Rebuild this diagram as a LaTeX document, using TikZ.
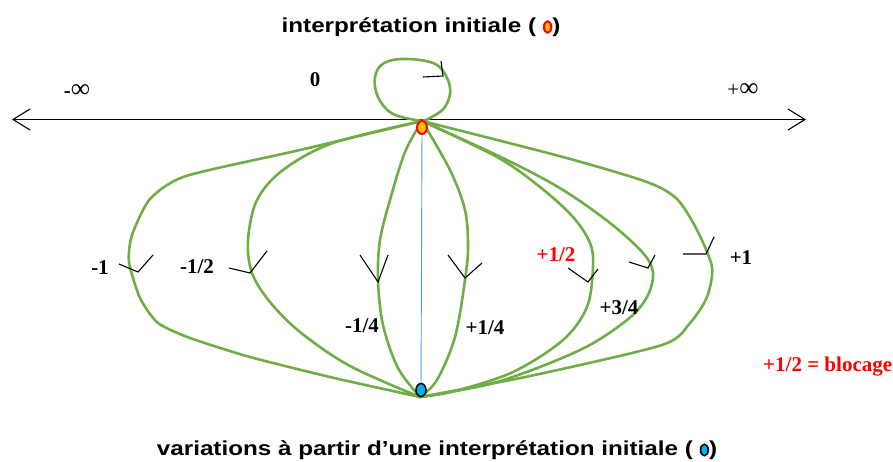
\documentclass[tikz,border=0pt]{standalone}
\usepackage{fontspec}
\usepackage{graphicx}
\setmainfont{Liberation Serif}
\newfontfamily\titlefont{Liberation Sans}
\usetikzlibrary{arrows.meta,shapes.geometric,positioning}
\definecolor{pathgreen}{RGB}{112, 173, 71}
\definecolor{startorange}{RGB}{255, 192, 0}
\definecolor{endblue}{RGB}{0, 176, 240}
\definecolor{linkblue}{RGB}{91, 155, 213}
\definecolor{blockred}{RGB}{255, 0, 0}

\newcommand{\initdot}{\tikz[baseline=-5pt]\draw[blockred, fill=startorange, line width=1.8pt] (0,0) ellipse (3pt and 5.8pt);}
\newcommand{\varydot}{\tikz[baseline=-5pt]\draw[black, fill=endblue, line width=1.4pt] (0,0) ellipse (3.2pt and 5.8pt);}
\newcommand{\headline}[1]{{\titlefont\bfseries\fontsize{20.2}{23}\selectfont\scalebox{1.2}[1]{#1}}}

\tikzset{
    variation/.style={draw=pathgreen, line width=2.6pt, line join=round, line cap=round},
    flowmark/.style={draw=black, line width=1.1pt},
    value/.style={font=\fontsize{21}{24}\selectfont\bfseries, inner sep=0pt},
}

\begin{document}
\begin{tikzpicture}[x=1pt, y=-1pt]
        \useasboundingbox (0,0) rectangle (893,461);
        % Titles
        \node[anchor=base, inner sep=0pt] (head) at (421,32) {\headline{interprétation initiale ( \initdot)}};
        \node[anchor=base, inner sep=0pt] (foot) at (437,455) {\headline{variations à partir d’une interprétation initiale ( \varydot)}};

        % Horizontal axis
        \coordinate (west) at (12,119.5);
        \coordinate (east) at (806,119.5);
        \draw[line width=1.1pt, {Straight Barb[length=17pt, width=21pt]}-{Straight Barb[length=17pt, width=21pt]}] (west) -- (east);
        \node[inner sep=0pt] (minf) at (77,91) {\fontsize{21}{24}\selectfont\textbf{-}\fontsize{27}{28}\selectfont∞};
        \node[inner sep=0pt] (pinf) at (743,90) {\fontsize{21}{24}\selectfont+\fontsize{27}{28}\selectfont∞};
        \node[value] (zero) at (315,80) {0};

        % Meeting points of all the variations
        \coordinate (src) at (422,121);
        \coordinate (snk) at (420,397);

        % Loop for 0
        \draw[variation] plot[smooth, tension=0.6] coordinates {(src) (393,114) (378,97) (375,77) (384,63) (407,59) (437,65) (450,87) (445,107) (430,118) (src)};
        \draw[flowmark] (423,77) -- (443,76) -- (441,61);

        % Left variations
        \draw[variation] plot[smooth, tension=0.4] coordinates {(src) (300,150) (186,176) (150,199) (132,235) (129,262) (140,298) (158,323) (190,338) (250,357) (330,377) (snk)};
        \draw[variation] plot[smooth, tension=0.55] coordinates {(src) (333,143) (283,170) (257,200) (248,240) (252,273) (270,302) (300,332) (350,366) (snk)};
        \draw[variation] plot[smooth, tension=0.55] coordinates {(src) (405,152) (390,200) (380,240) (378,280) (383,325) (398,368) (snk)};

        % Right variations
        \draw[variation] plot[smooth, tension=0.55] coordinates {(src) (450,170) (465,210) (468,247) (465,280) (455,337) (437,380) (snk)};
        \draw[variation] plot[smooth, tension=0.55] coordinates {(src) (497,157) (540,187) (573,217) (590,243) (593,267) (587,307) (563,340) (513,372) (455,391) (snk)};
        \draw[variation] plot[smooth, tension=0.55] coordinates {(src) (507,160) (563,190) (610,223) (643,253) (653,273) (647,297) (627,320) (580,350) (497,382) (snk)};
        \draw[variation] plot[smooth, tension=0.45] coordinates {(src) (563,157) (647,182) (677,199) (697,230) (712,267) (707,297) (690,323) (662,345) (530,376) (snk)};

        % Direction marks
        \draw[flowmark] (119,264) -- (138,272) -- (153,255);
        \draw[flowmark] (229,268) -- (250,273) -- (267,251);
        \draw[flowmark] (360,255) -- (378,282) -- (388,255);
        \draw[flowmark] (448,255) -- (465,278) -- (482,263);
        \draw[flowmark] (568,268) -- (588,282) -- (598,269);
        \draw[flowmark] (629,262) -- (648,268) -- (655,255);
        \draw[flowmark] (683,254) -- (706,254) -- (714,237);

        % Initial and varied interpretations
        \node[ellipse, draw=blockred, fill=startorange, line width=2pt, minimum width=10pt, minimum height=13pt, inner sep=0pt] (init) at (422,127.5) {};
        \node[ellipse, draw=black, fill=endblue, line width=1.5pt, minimum width=10pt, minimum height=13pt, inner sep=0pt] (vary) at (421,390) {};
        \draw[linkblue, line width=0.9pt] (init) -- (vary);

        % Values
        \node[value] (m1) at (100,268) {-1};
        \node[value] (m12) at (197,267) {-1/2};
        \node[value] (m14) at (362,326) {-1/4};
        \node[value] (p14) at (485,328) {+1/4};
        \node[value, text=blockred] (p12) at (556,255) {+1/2};
        \node[value] (p34) at (619,308) {+3/4};
        \node[value] (p1) at (741,258) {+1};
        \node[value, text=blockred, anchor=west] (block) at (763,367) {+1/2 = blocage};
    \end{tikzpicture}
\end{document}
